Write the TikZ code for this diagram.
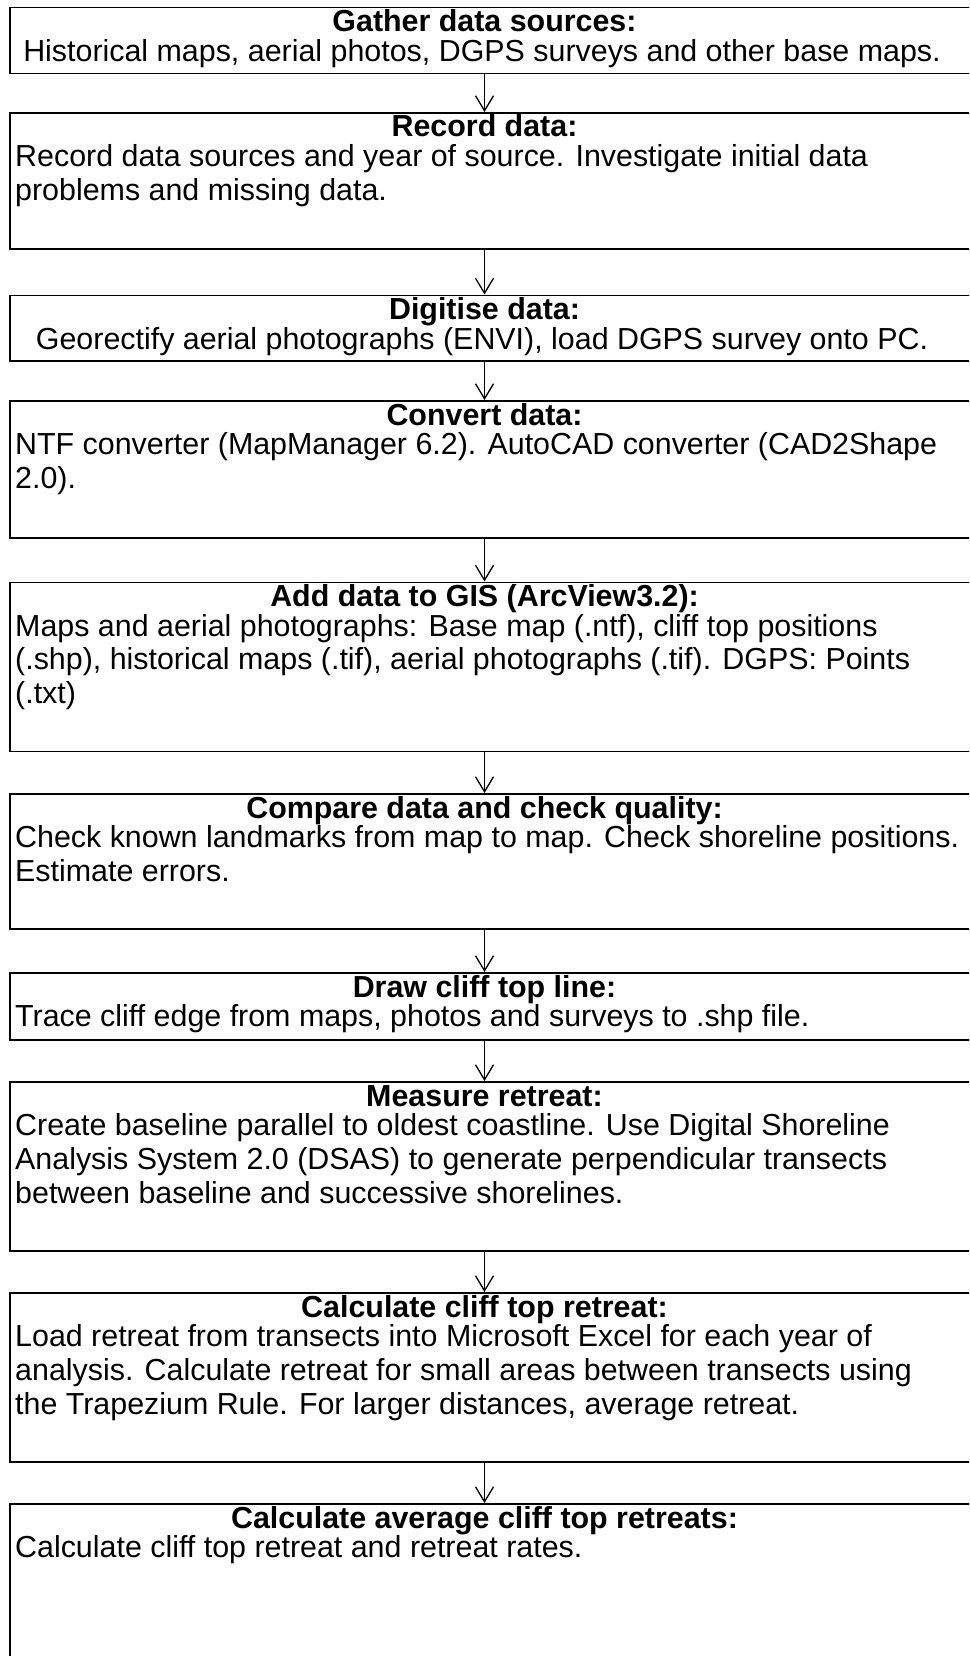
\documentclass[tikz,border=0pt]{standalone}
\usepackage{fontspec}
\setmainfont{Liberation Sans}
\usetikzlibrary{arrows.meta}
\tikzset{
  boxf/.style={draw=black, line width=1.8pt, minimum width=1000pt, inner sep=0pt, outer sep=0pt},
  titlef/.style={font=\fontsize{30.4pt}{33.8pt}\selectfont\bfseries, inner sep=0pt, anchor=base},
  bodyl/.style={font=\fontsize{30.4pt}{33.8pt}\selectfont, inner sep=0pt, anchor=base west, align=left},
  bodyc/.style={font=\fontsize{30.4pt}{33.8pt}\selectfont, inner sep=0pt, anchor=base, align=center},
  arr/.style={line width=1.3pt, -{Straight Barb[length=15pt, width=18pt, line width=1.3pt]}, shorten >=1pt}
}
% name, top, height, title, body, style (c/l), number of body lines
\newcommand\mkbox[7]{%
  \node[boxf, minimum height=#3pt, anchor=north west] (#1) at (10,#2) {};
  \node[titlef] (#1t) at (484.5,{#2+24}) {#4};
  \ifx c#6
    \node[bodyc] (#1d) at (482,{#2+53.6+(#7-1)*33.8}) {#5};
  \else
    \node[bodyl] (#1d) at (15,{#2+53.6+(#7-1)*33.8}) {#5};
  \fi
}
\begin{document}
\begin{tikzpicture}[x=1pt,y=-1pt]
\useasboundingbox (0,0) rectangle (969,1656);
\clip (0,0) rectangle (969,1656);
\fill[white] (0,0) rectangle (969,1656);
\mkbox{b1}{7.5}{66}{Gather data sources:}{Historical maps, aerial photos, DGPS surveys and other base maps.}{c}{1}
\mkbox{b2}{113}{136}{Record data:}{Record data sources and year of source. Investigate initial data\\problems and missing data.}{l}{2}
\mkbox{b3}{295.5}{65.5}{Digitise data:}{Georectify aerial photographs (ENVI), load DGPS survey onto PC.}{c}{1}
\mkbox{b4}{401}{137}{Convert data:}{NTF converter (MapManager 6.2). AutoCAD converter (CAD2Shape\\2.0).}{l}{2}
\mkbox{b5}{582.5}{169}{Add data to GIS (ArcView3.2):}{Maps and aerial photographs: Base map (.ntf), cliff top positions\\(.shp), historical maps (.tif), aerial photographs (.tif). DGPS: Points\\(.txt)}{l}{3}
\mkbox{b6}{794}{135}{Compare data and check quality:}{Check known landmarks from map to map. Check shoreline positions.\\Estimate errors.}{l}{2}
\mkbox{b7}{973}{67}{Draw cliff top line:}{Trace cliff edge from maps, photos and surveys to .shp file.}{l}{1}
\mkbox{b8}{1082}{169}{Measure retreat:}{Create baseline parallel to oldest coastline. Use Digital Shoreline\\Analysis System 2.0 (DSAS) to generate perpendicular transects\\between baseline and successive shorelines.}{l}{3}
\mkbox{b9}{1293}{169}{Calculate cliff top retreat:}{Load retreat from transects into Microsoft Excel for each year of\\analysis. Calculate retreat for small areas between transects using\\the Trapezium Rule. For larger distances, average retreat.}{l}{3}
\mkbox{b10}{1504}{300}{Calculate average cliff top retreats:}{Calculate cliff top retreat and retreat rates.}{l}{1}
\foreach \a/\b in {b1/b2,b2/b3,b3/b4,b4/b5,b5/b6,b6/b7,b7/b8,b8/b9,b9/b10}{
  \draw[arr] (\a.south -| \a t.base) -- (\b.north -| \a t.base);
}
\end{tikzpicture}
\end{document}
